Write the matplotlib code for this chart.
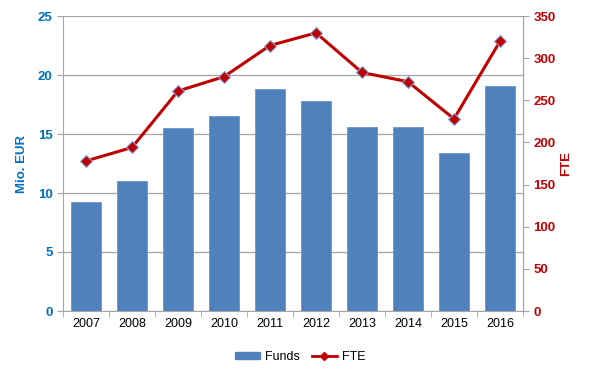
import numpy as np
import matplotlib
matplotlib.use('Agg')
import matplotlib.pyplot as plt
from matplotlib.lines import Line2D
from matplotlib.patches import Patch

plt.rcParams['font.family'] = ['Liberation Sans', 'DejaVu Sans']

# Data
years = ['2007', '2008', '2009', '2010', '2011', '2012', '2013', '2014', '2015', '2016']
funds = [9.25, 11.0, 15.5, 16.5, 18.85, 17.8, 15.6, 15.6, 13.4, 19.1]
fte = [178, 194, 261, 278, 315, 330, 283, 272, 228, 320]

blue = '#4F81BD'
red = '#C00000'
axis_blue = '#0070C0'
grey = '#A6A6A6'

fig = plt.figure(figsize=(5.95, 3.77), dpi=100)
ax = fig.add_axes([63/595, 66/377, 460/595, 295/377])
x = np.arange(len(years))

ax.bar(x, funds, width=0.66, color=blue, edgecolor='#6A95C8', linewidth=0.6, zorder=2)
ax.set_xlim(-0.5, len(years) - 0.5)
ax.set_ylim(0, 25)
ax.set_yticks(np.arange(0, 26, 5))
ax.yaxis.grid(True, color=grey, linewidth=0.9, zorder=0)
ax.set_axisbelow(True)

# category separators on the x axis
ax.set_xticks(x)
ax.set_xticklabels(years, fontsize=9)
ax.set_xticks(np.arange(-0.5, len(years), 1), minor=True)
ax.tick_params(axis='x', which='major', length=0, pad=5)
ax.tick_params(axis='x', which='minor', length=4, color=grey, direction='out')
ax.tick_params(axis='y', length=4, color=grey, labelcolor=axis_blue, labelsize=9.5)
for lab in ax.get_yticklabels():
    lab.set_fontweight('bold')
ax.set_ylabel('Mio. EUR', color=axis_blue, fontsize=9.5, fontweight='bold', labelpad=7)

ax.spines['top'].set_visible(False)
for s in ['left', 'bottom', 'right']:
    ax.spines[s].set_color(grey)

ax2 = ax.twinx()
ax2.plot(x, fte, color=red, linewidth=2.2, marker='D', markersize=6,
         markerfacecolor=red, markeredgecolor='#7EA6E0', markeredgewidth=0.8, zorder=3)
ax2.set_ylim(0, 350)
ax2.set_yticks(np.arange(0, 351, 50))
ax2.tick_params(axis='y', length=4, color=grey, labelcolor=red, labelsize=9.5)
for lab in ax2.get_yticklabels():
    lab.set_fontweight('bold')
ax2.set_ylabel('FTE', color=red, fontsize=9.5, fontweight='bold', labelpad=3)
for s in ['top', 'left', 'bottom']:
    ax2.spines[s].set_visible(False)
ax2.spines['right'].set_color(grey)

handles = [Patch(facecolor=blue, edgecolor=blue),
           Line2D([0], [0], color=red, linewidth=2, marker='D', markersize=4,
                  markerfacecolor=red, markeredgecolor=red)]
fig.legend(handles, ['Funds', 'FTE'], loc='center', bbox_to_anchor=(300/595, 1 - 357/377),
           ncol=2, frameon=False, fontsize=9, handlelength=2.0, handleheight=0.5,
           columnspacing=1.0, handletextpad=0.4)

fig.savefig('out.png', dpi=100)
